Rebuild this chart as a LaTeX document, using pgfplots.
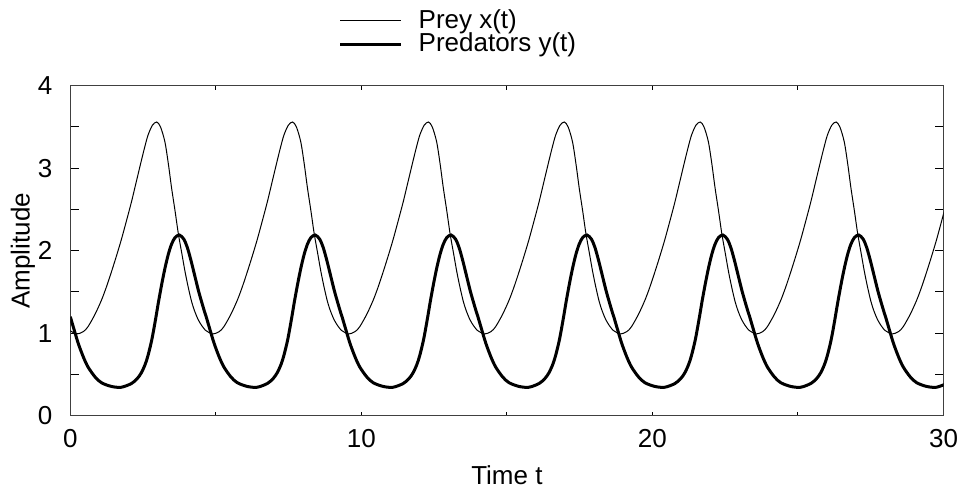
\documentclass[border=0pt]{standalone}
\usepackage{fontspec}
\setmainfont{Liberation Sans}
\usepackage{pgfplots}
\pgfplotsset{compat=1.18}
\begin{document}
\fontsize{13}{15.6}\selectfont
\begin{tikzpicture}
\begin{axis}[
 name=ax,
 scale only axis, width=436.6pt, height=165pt,
 xmin=0, xmax=30, ymin=0, ymax=4,
 xtick={0,5,...,30}, xticklabels={0,,10,,20,,30},
 ytick={0,0.5,...,4}, yticklabels={0,,1,,2,,3,,4},
 tick align=inside,
 axis line style={black!75, line width=0.5pt},
 every tick/.style={black, line width=0.5pt},
 xtick style={/pgfplots/major tick length=2pt},
 ytick style={/pgfplots/major tick length=4.3pt},
 xlabel={Time t}, ylabel={Amplitude},
 ylabel shift=-7.5pt,
 label style={font=\fontsize{13}{15.6}\selectfont},
 tick label style={font=\fontsize{13}{15.6}\selectfont},
 yticklabel style={xshift=-4.5pt},
 xticklabel style={yshift=-2.25pt},
 legend cell align=left,
 legend style={draw=none, fill=none, at={(axis description cs:0.3,1.065)}, anchor=south west,
   row sep=-3.5pt, column sep=6pt, font=\fontsize{13}{15.6}\selectfont},
 legend image code/.code={\draw[#1] (0pt,0pt) -- (30.5pt,0pt);},
]
\addplot[black, line width=0.5pt, smooth, tension=0.5] table[row sep=\\] {
t v\\
0.00 1.03\\ 0.22 0.99\\ 0.45 1.02\\ 0.61 1.08\\ 0.85 1.23\\ 1.07 1.40\\ 1.24 1.56\\ 1.41 1.74\\
1.58 1.93\\ 1.75 2.13\\ 1.92 2.35\\ 2.10 2.59\\ 2.27 2.84\\ 2.44 3.09\\ 2.56 3.26\\ 2.67 3.40\\
2.82 3.52\\ 2.97 3.56\\ 3.10 3.50\\ 3.25 3.32\\ 3.37 3.05\\ 3.48 2.76\\ 3.60 2.48\\ 3.71 2.21\\
3.83 1.97\\ 3.94 1.75\\ 4.05 1.56\\ 4.17 1.38\\ 4.28 1.26\\ 4.40 1.16\\ 4.52 1.09\\ 4.63 1.04\\
4.668 1.03\\ 4.888 0.99\\ 5.118 1.02\\ 5.278 1.08\\ 5.518 1.23\\ 5.738 1.40\\ 5.908 1.56\\ 6.078 1.74\\
6.248 1.93\\ 6.418 2.13\\ 6.588 2.35\\ 6.768 2.59\\ 6.938 2.84\\ 7.108 3.09\\ 7.228 3.26\\ 7.338 3.40\\
7.488 3.52\\ 7.638 3.56\\ 7.768 3.50\\ 7.918 3.32\\ 8.038 3.05\\ 8.148 2.76\\ 8.268 2.48\\ 8.378 2.21\\
8.498 1.97\\ 8.608 1.75\\ 8.718 1.56\\ 8.838 1.38\\ 8.948 1.26\\ 9.068 1.16\\ 9.188 1.09\\ 9.298 1.04\\
9.336 1.03\\ 9.556 0.99\\ 9.786 1.02\\ 9.946 1.08\\ 10.186 1.23\\ 10.406 1.40\\ 10.576 1.56\\ 10.746 1.74\\
10.916 1.93\\ 11.086 2.13\\ 11.256 2.35\\ 11.436 2.59\\ 11.606 2.84\\ 11.776 3.09\\ 11.896 3.26\\ 12.006 3.40\\
12.156 3.52\\ 12.306 3.56\\ 12.436 3.50\\ 12.586 3.32\\ 12.706 3.05\\ 12.816 2.76\\ 12.936 2.48\\ 13.046 2.21\\
13.166 1.97\\ 13.276 1.75\\ 13.386 1.56\\ 13.506 1.38\\ 13.616 1.26\\ 13.736 1.16\\ 13.856 1.09\\ 13.966 1.04\\
14.004 1.03\\ 14.224 0.99\\ 14.454 1.02\\ 14.614 1.08\\ 14.854 1.23\\ 15.074 1.40\\ 15.244 1.56\\ 15.414 1.74\\
15.584 1.93\\ 15.754 2.13\\ 15.924 2.35\\ 16.104 2.59\\ 16.274 2.84\\ 16.444 3.09\\ 16.564 3.26\\ 16.674 3.40\\
16.824 3.52\\ 16.974 3.56\\ 17.104 3.50\\ 17.254 3.32\\ 17.374 3.05\\ 17.484 2.76\\ 17.604 2.48\\ 17.714 2.21\\
17.834 1.97\\ 17.944 1.75\\ 18.054 1.56\\ 18.174 1.38\\ 18.284 1.26\\ 18.404 1.16\\ 18.524 1.09\\ 18.634 1.04\\
18.672 1.03\\ 18.892 0.99\\ 19.122 1.02\\ 19.282 1.08\\ 19.522 1.23\\ 19.742 1.40\\ 19.912 1.56\\ 20.082 1.74\\
20.252 1.93\\ 20.422 2.13\\ 20.592 2.35\\ 20.772 2.59\\ 20.942 2.84\\ 21.112 3.09\\ 21.232 3.26\\ 21.342 3.40\\
21.492 3.52\\ 21.642 3.56\\ 21.772 3.50\\ 21.922 3.32\\ 22.042 3.05\\ 22.152 2.76\\ 22.272 2.48\\ 22.382 2.21\\
22.502 1.97\\ 22.612 1.75\\ 22.722 1.56\\ 22.842 1.38\\ 22.952 1.26\\ 23.072 1.16\\ 23.192 1.09\\ 23.302 1.04\\
23.340 1.03\\ 23.560 0.99\\ 23.790 1.02\\ 23.950 1.08\\ 24.190 1.23\\ 24.410 1.40\\ 24.580 1.56\\ 24.750 1.74\\
24.920 1.93\\ 25.090 2.13\\ 25.260 2.35\\ 25.440 2.59\\ 25.610 2.84\\ 25.780 3.09\\ 25.900 3.26\\ 26.010 3.40\\
26.160 3.52\\ 26.310 3.56\\ 26.440 3.50\\ 26.590 3.32\\ 26.710 3.05\\ 26.820 2.76\\ 26.940 2.48\\ 27.050 2.21\\
27.170 1.97\\ 27.280 1.75\\ 27.390 1.56\\ 27.510 1.38\\ 27.620 1.26\\ 27.740 1.16\\ 27.860 1.09\\ 27.970 1.04\\
28.008 1.03\\ 28.228 0.99\\ 28.458 1.02\\ 28.618 1.08\\ 28.858 1.23\\ 29.078 1.40\\ 29.248 1.56\\ 29.418 1.74\\
29.588 1.93\\ 29.758 2.13\\ 29.928 2.35\\ 30.108 2.59\\
};
\addlegendentry{Prey x(t)}
\addplot[black, line width=1.5pt, smooth, tension=0.5] table[row sep=\\] {
t v\\
0.00 1.20\\ 0.10 1.08\\ 0.27 0.88\\ 0.45 0.71\\ 0.61 0.59\\ 0.85 0.47\\ 1.07 0.40\\ 1.41 0.355\\
1.75 0.345\\ 2.10 0.39\\ 2.30 0.45\\ 2.44 0.52\\ 2.57 0.62\\ 2.67 0.73\\ 2.80 0.92\\ 2.92 1.15\\
3.03 1.38\\ 3.15 1.61\\ 3.26 1.80\\ 3.37 1.96\\ 3.48 2.08\\ 3.60 2.16\\ 3.75 2.19\\ 3.90 2.14\\
4.02 2.04\\ 4.14 1.89\\ 4.26 1.72\\ 4.40 1.52\\ 4.52 1.37\\ 4.63 1.24\\
4.668 1.20\\ 4.768 1.08\\ 4.938 0.88\\ 5.118 0.71\\ 5.278 0.59\\ 5.518 0.47\\ 5.738 0.40\\ 6.078 0.355\\
6.418 0.345\\ 6.768 0.39\\ 6.968 0.45\\ 7.108 0.52\\ 7.238 0.62\\ 7.338 0.73\\ 7.468 0.92\\ 7.588 1.15\\
7.698 1.38\\ 7.818 1.61\\ 7.928 1.80\\ 8.038 1.96\\ 8.148 2.08\\ 8.268 2.16\\ 8.418 2.19\\ 8.568 2.14\\
8.688 2.04\\ 8.808 1.89\\ 8.928 1.72\\ 9.068 1.52\\ 9.188 1.37\\ 9.298 1.24\\
9.336 1.20\\ 9.436 1.08\\ 9.606 0.88\\ 9.786 0.71\\ 9.946 0.59\\ 10.186 0.47\\ 10.406 0.40\\ 10.746 0.355\\
11.086 0.345\\ 11.436 0.39\\ 11.636 0.45\\ 11.776 0.52\\ 11.906 0.62\\ 12.006 0.73\\ 12.136 0.92\\ 12.256 1.15\\
12.366 1.38\\ 12.486 1.61\\ 12.596 1.80\\ 12.706 1.96\\ 12.816 2.08\\ 12.936 2.16\\ 13.086 2.19\\ 13.236 2.14\\
13.356 2.04\\ 13.476 1.89\\ 13.596 1.72\\ 13.736 1.52\\ 13.856 1.37\\ 13.966 1.24\\
14.004 1.20\\ 14.104 1.08\\ 14.274 0.88\\ 14.454 0.71\\ 14.614 0.59\\ 14.854 0.47\\ 15.074 0.40\\ 15.414 0.355\\
15.754 0.345\\ 16.104 0.39\\ 16.304 0.45\\ 16.444 0.52\\ 16.574 0.62\\ 16.674 0.73\\ 16.804 0.92\\ 16.924 1.15\\
17.034 1.38\\ 17.154 1.61\\ 17.264 1.80\\ 17.374 1.96\\ 17.484 2.08\\ 17.604 2.16\\ 17.754 2.19\\ 17.904 2.14\\
18.024 2.04\\ 18.144 1.89\\ 18.264 1.72\\ 18.404 1.52\\ 18.524 1.37\\ 18.634 1.24\\
18.672 1.20\\ 18.772 1.08\\ 18.942 0.88\\ 19.122 0.71\\ 19.282 0.59\\ 19.522 0.47\\ 19.742 0.40\\ 20.082 0.355\\
20.422 0.345\\ 20.772 0.39\\ 20.972 0.45\\ 21.112 0.52\\ 21.242 0.62\\ 21.342 0.73\\ 21.472 0.92\\ 21.592 1.15\\
21.702 1.38\\ 21.822 1.61\\ 21.932 1.80\\ 22.042 1.96\\ 22.152 2.08\\ 22.272 2.16\\ 22.422 2.19\\ 22.572 2.14\\
22.692 2.04\\ 22.812 1.89\\ 22.932 1.72\\ 23.072 1.52\\ 23.192 1.37\\ 23.302 1.24\\
23.340 1.20\\ 23.440 1.08\\ 23.610 0.88\\ 23.790 0.71\\ 23.950 0.59\\ 24.190 0.47\\ 24.410 0.40\\ 24.750 0.355\\
25.090 0.345\\ 25.440 0.39\\ 25.640 0.45\\ 25.780 0.52\\ 25.910 0.62\\ 26.010 0.73\\ 26.140 0.92\\ 26.260 1.15\\
26.370 1.38\\ 26.490 1.61\\ 26.600 1.80\\ 26.710 1.96\\ 26.820 2.08\\ 26.940 2.16\\ 27.090 2.19\\ 27.240 2.14\\
27.360 2.04\\ 27.480 1.89\\ 27.600 1.72\\ 27.740 1.52\\ 27.860 1.37\\ 27.970 1.24\\
28.008 1.20\\ 28.108 1.08\\ 28.278 0.88\\ 28.458 0.71\\ 28.618 0.59\\ 28.858 0.47\\ 29.078 0.40\\ 29.418 0.355\\
29.758 0.345\\ 30.108 0.39\\
};
\addlegendentry{Predators y(t)}
\end{axis}
\pgfresetboundingbox
\path ([shift={(-35.15pt,-36.65pt)}]ax.south west) rectangle ++(480.5pt,244.5pt);
\end{tikzpicture}
\end{document}
